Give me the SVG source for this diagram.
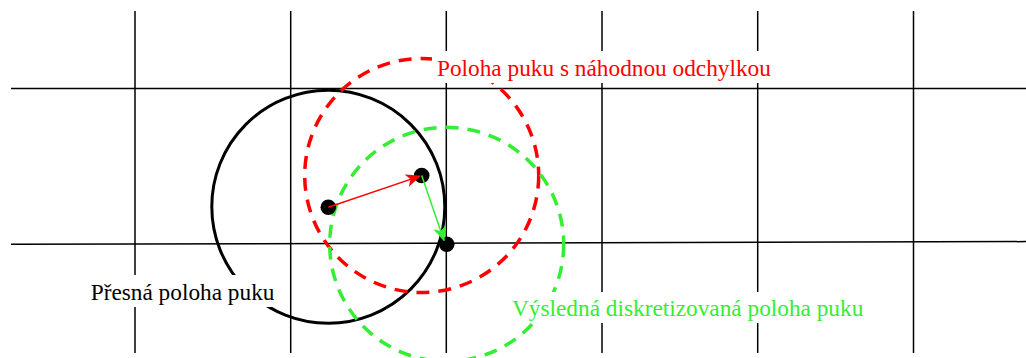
<svg xmlns="http://www.w3.org/2000/svg" width="1026" height="358" viewBox="0 0 1026 358">
<style>
.grid{stroke:#000;stroke-width:1.5;fill:none}
.circ{fill:none;stroke-width:3}
.dash{stroke-width:3.5;stroke-dasharray:13 9}
.dot{fill:#000}
.lbl{font-family:"Liberation Serif","Times New Roman",serif;font-size:23.3px}
.bg{fill:#fff;stroke:none}
</style>
<defs>
<marker id="ahR" markerUnits="userSpaceOnUse" markerWidth="15" markerHeight="13" refX="14" refY="6.5" orient="auto">
<path d="M0,0 L15,6.5 L0,13 L4,6.5 Z" fill="#ff0000"/>
</marker>
<marker id="ahG" markerUnits="userSpaceOnUse" markerWidth="15" markerHeight="13" refX="14" refY="6.5" orient="auto">
<path d="M0,0 L15,6.5 L0,13 L4,6.5 Z" fill="#33ee33"/>
</marker>
</defs>
<rect width="1026" height="358" fill="#fff"/>
<g id="grid" class="grid">
<line x1="135" y1="11" x2="135" y2="353"/>
<line x1="290.7" y1="11" x2="290.7" y2="353"/>
<line x1="446.3" y1="11" x2="446.3" y2="353"/>
<line x1="602" y1="11" x2="602" y2="353"/>
<line x1="757.7" y1="11" x2="757.7" y2="353"/>
<line x1="913.5" y1="11" x2="913.5" y2="353"/>
<line x1="11" y1="88.6" x2="1026" y2="88.6"/>
<line x1="11" y1="244.3" x2="1026" y2="241.6"/>
</g>
<g id="circle-exact">
<circle class="circ" cx="328.3" cy="206.7" r="116.5" stroke="#000"/>
</g>
<g id="circle-random">
<circle class="circ dash" cx="421.7" cy="175.5" r="117" stroke="#ff0000"/>
</g>
<g id="circle-result">
<circle class="circ dash" cx="446.7" cy="244.3" r="117" stroke="#33ee33"/>
</g>
<g id="dot-exact"><circle class="dot" cx="328.3" cy="207.3" r="7.8"/></g>
<g id="dot-random"><circle class="dot" cx="421.7" cy="175.5" r="7.8"/></g>
<g id="dot-result"><circle class="dot" cx="446.7" cy="244.3" r="7.8"/></g>
<g id="connectors">
<line x1="328.3" y1="207.3" x2="420" y2="176.1" stroke="#ff0000" stroke-width="1.5" marker-end="url(#ahR)"/>
<line x1="421.7" y1="175.5" x2="444" y2="240.5" stroke="#33ee33" stroke-width="1.5" marker-end="url(#ahG)"/>
</g>
<g id="label-exact">
<rect class="bg" x="86" y="275" width="192" height="32"/>
<text class="lbl" x="90.7" y="300" fill="#000">Přesná poloha puku</text>
</g>
<g id="label-random">
<rect class="bg" x="432" y="51" width="344" height="32"/>
<text class="lbl" x="437" y="76" fill="#ff0000">Poloha puku s náhodnou odchylkou</text>
</g>
<g id="label-result">
<rect class="bg" x="508" y="292" width="360" height="31"/>
<text class="lbl" x="512" y="316" fill="#33ee33">Výsledná diskretizovaná poloha puku</text>
</g>
</svg>
